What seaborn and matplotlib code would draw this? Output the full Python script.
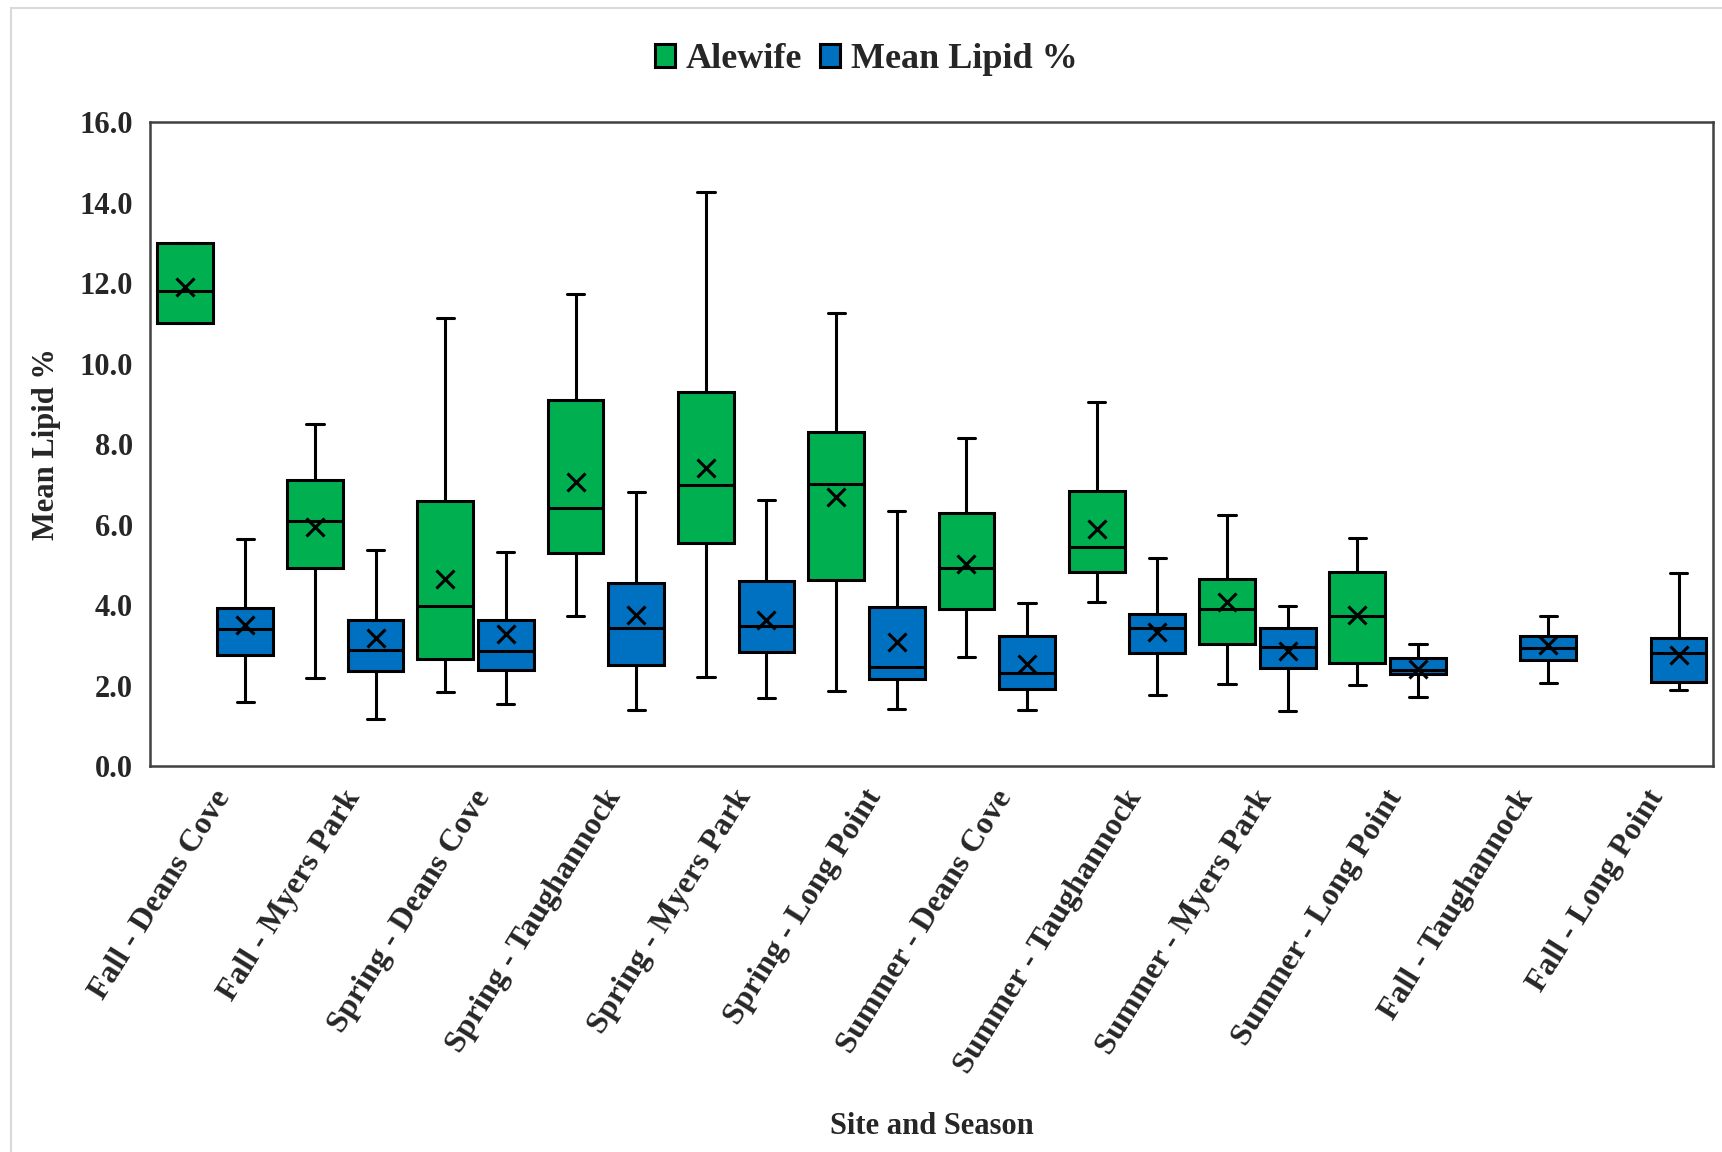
import numpy as np
import pandas as pd
import matplotlib
matplotlib.use('Agg')
import matplotlib.pyplot as plt
import matplotlib.transforms as mtransforms
from matplotlib.patches import Rectangle
import seaborn as sns

sites = ['Fall - Deans Cove', 'Fall - Myers Park', 'Spring - Deans Cove',
         'Spring - Taughannock', 'Spring - Myers Park', 'Spring - Long Point',
         'Summer - Deans Cove', 'Summer - Taughannock', 'Summer - Myers Park',
         'Summer - Long Point', 'Fall - Taughannock', 'Fall - Long Point']
series = ['Alewife', 'Mean Lipid %']

# Alewife (green) - no samples for the last two groups
alewife_min = [11.0, 2.20, 1.85, 3.72, 2.22, 1.86, 2.70, 4.07, 2.05, 2.02, np.nan, np.nan]
alewife_q1 = [11.0, 4.91, 2.67, 5.29, 5.54, 4.62, 3.90, 4.83, 3.03, 2.57, np.nan, np.nan]
alewife_med = [11.8, 6.09, 3.97, 6.42, 6.98, 7.00, 4.91, 5.44, 3.91, 3.73, np.nan, np.nan]
alewife_q3 = [13.0, 7.12, 6.59, 9.10, 9.29, 8.31, 6.29, 6.84, 4.65, 4.81, np.nan, np.nan]
alewife_max = [13.0, 8.51, 11.14, 11.74, 14.26, 11.26, 8.16, 9.04, 6.25, 5.66, np.nan, np.nan]
alewife_mean = [11.91, 5.93, 4.66, 7.06, 7.40, 6.68, 5.03, 5.88, 4.07, 3.76, np.nan, np.nan]

# Mean Lipid % (blue)
lipid_min = [1.59, 1.16, 1.55, 1.39, 1.68, 1.43, 1.39, 1.77, 1.37, 1.71, 2.06, 1.90]
lipid_q1 = [2.75, 2.35, 2.39, 2.52, 2.84, 2.16, 1.91, 2.81, 2.44, 2.28, 2.63, 2.10]
lipid_med = [3.40, 2.88, 2.86, 3.43, 3.47, 2.45, 2.32, 3.42, 2.96, 2.39, 2.94, 2.80]
lipid_q3 = [3.92, 3.62, 3.62, 4.56, 4.60, 3.95, 3.22, 3.78, 3.42, 2.68, 3.24, 3.19]
lipid_max = [5.64, 5.38, 5.31, 6.81, 6.60, 6.34, 4.05, 5.16, 3.97, 3.03, 3.74, 4.79]
lipid_mean = [3.50, 3.17, 3.29, 3.76, 3.63, 3.08, 2.53, 3.33, 2.86, 2.41, 3.01, 2.76]

# long-form table: five-number summary per group (whiskers = min/max)
rows = []
for i, site in enumerate(sites):
    groups = [
        ('Alewife', [alewife_min[i], alewife_q1[i], alewife_med[i], alewife_q3[i], alewife_max[i]]),
        ('Mean Lipid %', [lipid_min[i], lipid_q1[i], lipid_med[i], lipid_q3[i], lipid_max[i]]),
    ]
    for name, vals in groups:
        for v in vals:
            if not np.isnan(v):
                rows.append({'site': site, 'species': name, 'lipid': v})
df = pd.DataFrame(rows)

means = pd.DataFrame({
    'site': sites * 2,
    'species': ['Alewife'] * len(sites) + ['Mean Lipid %'] * len(sites),
    'lipid': alewife_mean + lipid_mean,
}).dropna()

sns.set_theme(style='white')
plt.rcParams['font.family'] = ['Liberation Serif', 'DejaVu Serif']
plt.rcParams['font.weight'] = 'bold'
plt.rcParams['axes.labelweight'] = 'bold'

fig = plt.figure(figsize=(17.22, 11.52), dpi=100)
ax = fig.add_axes([0.087, 0.335, 0.908, 0.559])

palette = {'Alewife': '#00B050', 'Mean Lipid %': '#0070C0'}
sns.boxplot(data=df, x='site', y='lipid', hue='species', order=sites,
            hue_order=series, palette=palette, saturation=1, whis=(0, 100),
            width=0.93, gap=0.08, linecolor='black', linewidth=2.2, ax=ax)

# shorten whisker caps (Excel style)
for ln in ax.lines:
    xd, yd = np.asarray(ln.get_xdata(), float), np.asarray(ln.get_ydata(), float)
    if len(xd) == 2 and yd[0] == yd[1] and abs(xd[1] - xd[0]) < 0.3:
        c = xd.mean()
        h = (xd[1] - xd[0]) / 2 * 0.62
        ln.set_xdata([c - h, c + h])

sns.pointplot(data=means, x='site', y='lipid', hue='species', order=sites,
              hue_order=series, palette={'Alewife': 'black', 'Mean Lipid %': 'black'},
              markers='x', linestyle='none', dodge=0.465, errorbar=None,
              markersize=13, markeredgewidth=2.2, legend=False, ax=ax)

ax.set_ylim(0, 16)
ax.set_yticks(np.arange(0, 17, 2))
ax.set_yticklabels([f'{v:.1f}' for v in np.arange(0, 17, 2)], fontsize=22)
ax.set_xlim(-0.5, len(sites) - 0.5)
ax.tick_params(axis='both', length=0)
ax.tick_params(axis='y', pad=12)
ax.tick_params(axis='x', pad=19)
plt.setp(ax.get_xticklabels(), rotation=58, ha='right', va='center',
         rotation_mode='anchor', fontsize=23)
shift = mtransforms.ScaledTranslation(9 / 100, 0, fig.dpi_scale_trans)
for lbl in ax.get_xticklabels():
    lbl.set_transform(lbl.get_transform() + shift)

ax.set_xlabel('Site and Season', fontsize=22, fontweight='bold')
ax.xaxis.set_label_coords(0.5, -0.537)
ax.set_ylabel('Mean Lipid %', fontsize=22, fontweight='bold')
ax.yaxis.set_label_coords(-0.057, 0.5)

for s in ax.spines.values():
    s.set_visible(True)
    s.set_color('#404040')
    s.set_linewidth(1.8)

sns.move_legend(ax, 'center', bbox_to_anchor=(0.503, 1 - 60 / 1152),
                bbox_transform=fig.transFigure, ncol=2, frameon=False, title=None,
                fontsize=26, handlelength=0.55, handleheight=0.6,
                handletextpad=0.3, columnspacing=0.5)

fig.patches.append(Rectangle((11 / 1722, -0.05), 1.1, 1 - 8 / 1152 + 0.05,
                             transform=fig.transFigure, fill=False,
                             edgecolor='#d9d9d9', linewidth=1.5))

fig.savefig('out.png', dpi=100)
